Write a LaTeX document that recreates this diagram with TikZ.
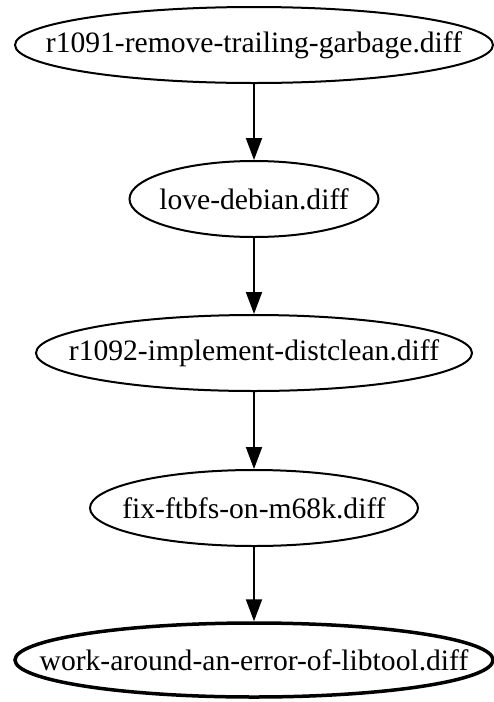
\documentclass[tikz,border=0pt]{standalone}
\usepackage{fontspec}
\setmainfont{Liberation Serif}
\usetikzlibrary{shapes.geometric,arrows.meta}
\begin{document}
\begin{tikzpicture}[x=1pt, y=-1pt, line width=2pt,
  patch/.style={draw, ellipse, inner sep=0pt, minimum height=76pt,
    label={[font=\fontsize{29.6}{34}\selectfont]center:#1}},
  dep/.style={-{Triangle[length=22pt,width=16pt]}}]
\useasboundingbox (0,0) rectangle (494,702);
% patch series, applied top to bottom
\node[patch=r1091-remove-trailing-garbage.diff, minimum width=478pt] (garbage) at (254,45) {};
\node[patch=love-debian.diff, minimum width=249pt] (debian) at (254,199) {};
\node[patch=r1092-implement-distclean.diff, minimum width=436pt] (distclean) at (254,353) {};
\node[patch=fix-ftbfs-on-m68k.diff, minimum width=328pt] (m68k) at (254,508) {};
\node[patch=work-around-an-error-of-libtool.diff, minimum width=478pt,
  minimum height=74pt, line width=3.5pt] (libtool) at (254,660) {};
\foreach \a/\b in {garbage/debian, debian/distclean, distclean/m68k, m68k/libtool}
  \draw[dep] (\a) -- (\b);
\end{tikzpicture}
\end{document}
